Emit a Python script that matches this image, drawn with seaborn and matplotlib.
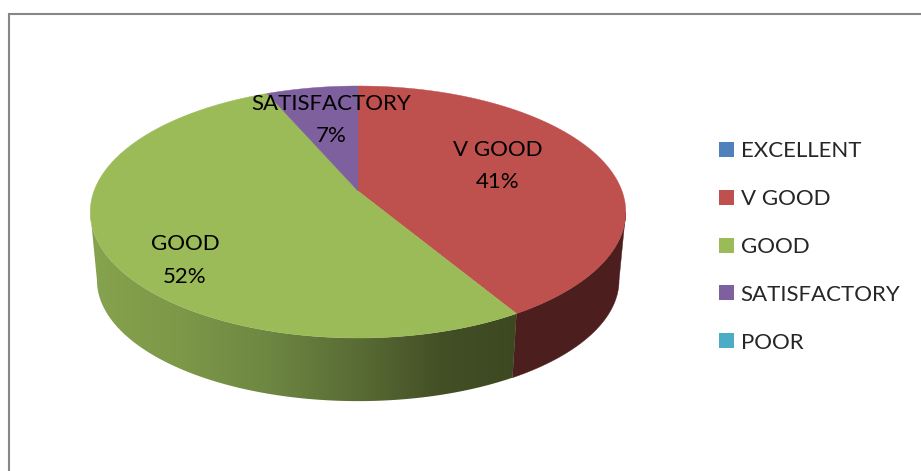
#####----- 3D style pie chart of ratings
import numpy as np
import matplotlib
matplotlib.use("Agg")
import matplotlib.pyplot as plt
from matplotlib.patches import Patch, Polygon
import seaborn as sns

#####----- DATA
categories = ["EXCELLENT", "V GOOD", "GOOD", "SATISFACTORY", "POOR"]
values = [0.0, 41.4, 52.1, 6.5, 0.0]
colors = ["#4F81BD", "#BE504E", "#9BBB59", "#7F609E", "#4BACC6"]
side_colors = ["#2A4565", "#4C1F1E", None, "#40305A", "#24606F"]

#####----- GEOMETRY (pixel units of the picture)
apex_x, apex_y = 358, 191
rad_x, rad_y = 264, 122.5
persp = 1 / 6
depth = 69
depth_scale_x, depth_scale_y = 0.975, 0.96
font_size = 16

# left to right shading of the green side
grad_x = [90, 180, 270, 360, 440, 520]
grad_rgb = np.array([[134, 163, 78], [125, 152, 72], [109, 134, 66],
                     [88, 107, 52], [67, 79, 37], [61, 72, 33]]) / 255

sns.set_theme(style="white")
plt.rcParams['font.family'] = ['Lato', 'DejaVu Sans']


def project(theta):
    u, v = np.sin(theta), np.cos(theta)
    d = 1 + persp * v
    return rad_x * u / d, -rad_y * v / d


def main():
    fig, ax = plt.subplots(figsize=(9.21, 4.71), dpi=100)
    fig.subplots_adjust(0, 0, 1, 1)

    # chart frame, cut by the picture on right and bottom
    ax.plot([9, 9, 921], [471, 14, 14], color="#868686", lw=1.5, solid_joinstyle="miter")

    total = sum(values)
    edges = np.cumsum([0] + values) / total * 2 * np.pi

    # only the front of the wall shows, between the two widest rim points
    fine = np.linspace(0, 2 * np.pi, 3601)
    fine_x = project(fine)[0]
    theta_r, theta_l = fine[np.argmax(fine_x)], fine[np.argmin(fine_x)]

    for i in range(len(values)):
        start, stop = max(edges[i], theta_r), min(edges[i + 1], theta_l)
        if values[i] == 0 or stop <= start:
            continue
        t = np.linspace(start, stop, 200)
        X, Y = project(t)
        xt, yt = apex_x + X, apex_y + Y
        xb, yb = apex_x + X * depth_scale_x, apex_y + Y * depth_scale_y + depth
        outline = np.c_[np.r_[xt, xb[::-1]], np.r_[yt, yb[::-1]]]
        if side_colors[i] is None:
            xs = np.arange(80, 530)
            grad = np.stack([np.interp(xs, grad_x, grad_rgb[:, c]) for c in range(3)], axis=-1)[None, :, :]
            im = ax.imshow(grad, extent=(80, 530, 420, 60), aspect="auto", interpolation="bilinear", zorder=1)
            im.set_clip_path(Polygon(outline, transform=ax.transData))
        else:
            ax.fill(outline[:, 0], outline[:, 1], color=side_colors[i], lw=0.3, zorder=1)

    # top face
    for i in range(len(values)):
        if values[i] == 0:
            continue
        t = np.linspace(edges[i], edges[i + 1], 200)
        X, Y = project(t)
        px = np.r_[apex_x, apex_x + X]
        py = np.r_[apex_y, apex_y + Y]
        ax.fill(px, py, color=colors[i], lw=0.3, zorder=2)

    # data labels
    label_pos = {"V GOOD": (498, 165), "GOOD": (185, 260), "SATISFACTORY": (331, 119)}
    for name, val in zip(categories, values):
        if val == 0:
            continue
        x, y = label_pos[name]
        ax.text(x, y - 15.5, name, ha="center", va="center", fontsize=font_size, color="black", zorder=3)
        ax.text(x, y + 17, f"{int(val + 0.5)}%", ha="center", va="center", fontsize=font_size, color="black", zorder=3)

    ax.set_xlim(0, 921)
    ax.set_ylim(471, 0)
    ax.axis("off")

    handles = [Patch(facecolor=c, edgecolor="none") for c in colors]
    ax.legend(handles, categories, loc="center left", bbox_to_anchor=(719, 247),
              bbox_transform=ax.transData, frameon=False, fontsize=font_size,
              borderpad=0, borderaxespad=0, handlelength=0.66, handleheight=0.66,
              handletextpad=0.32, labelspacing=1.25)

    fig.savefig("out.png", dpi=100)


if __name__ == '__main__':
    main()
